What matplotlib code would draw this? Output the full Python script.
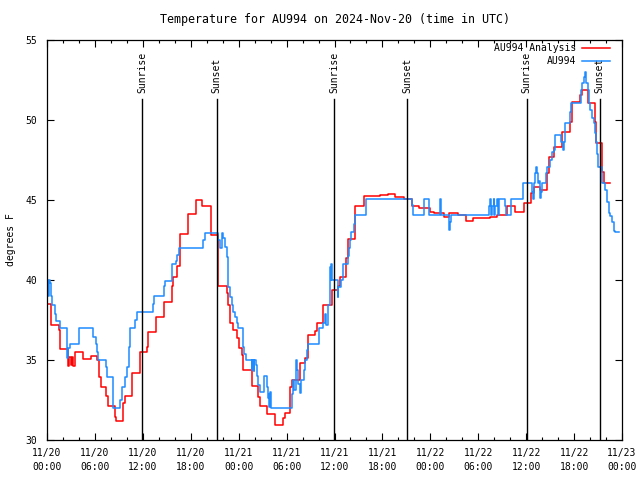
import numpy as np
import matplotlib
matplotlib.use("Agg")
import matplotlib.pyplot as plt
from matplotlib.ticker import MultipleLocator

# hours since 2024-11-20 00:00 UTC, value holds until next time (step)
red_t = [0.0, 0.55, 1.5, 1.63, 2.63, 2.8, 2.95, 3.1, 3.25, 3.45, 4.55, 5.55, 6.3, 6.5, 6.7,
         7.45, 7.7, 8.5, 8.7, 9.5, 9.8, 10.6, 11.65, 12.5, 12.7, 13.66, 14.66, 15.62, 15.75,
         16.25, 16.67, 17.71, 18.67, 19.38, 20.51, 21.47, 22.52, 22.72, 22.93, 23.3, 23.77,
         23.98, 24.4, 24.6, 25.65, 25.73, 26.48, 26.69, 27.53, 28.57, 29.53, 29.74, 30.45,
         30.74, 31.7, 32.33, 32.67, 33.58, 33.8, 34.5, 35.67, 36.5, 36.72, 37.47, 37.63, 38.6,
         39.64, 41.65, 42.65, 43.6, 44.65, 45.7, 46.53, 48.0, 48.4, 49.66, 50.4, 51.5, 52.5,
         53.4, 54.5, 55.5, 56.35, 57.6, 58.65, 59.7, 60.6, 60.94, 61.78, 62.6, 62.8, 63.5,
         64.5, 65.45, 65.75, 66.7, 67.0, 67.7, 68.67, 68.8, 69.5, 69.7, 70.46]
red_v = [38.5, 37.2, 36.9, 35.7, 34.6, 35.2, 34.7, 35.2, 34.6, 35.5, 35.06, 35.27, 35.0, 33.96, 33.33,
         32.75, 32.1, 31.46, 31.17, 32.3, 32.75, 34.17, 35.5, 35.83, 36.77, 37.67, 38.65, 39.6, 40.2,
         40.9, 42.9, 44.1, 45.0, 44.6, 42.8, 39.6, 39.2, 38.44, 37.3, 36.9, 36.35,
         35.73, 35.3, 34.4, 33.85, 33.4, 32.7, 32.15, 31.6, 30.94, 31.35, 31.67, 33.33,
         33.75, 34.8, 35.1, 36.56, 36.8, 37.3, 38.44, 39.4, 39.6, 40.17, 41.35, 42.54, 44.6,
         45.25, 45.31, 45.375, 45.17, 45.05, 44.6, 44.48, 44.27, 44.17, 43.96, 44.2, 44.06, 43.71,
         43.9, 43.85, 43.96, 44.06, 44.65, 44.27, 44.79, 45.42, 45.83, 45.625, 46.67, 47.71, 48.33,
         49.27, 49.9, 51.15, 51.56, 51.875, 51.04, 49.9, 48.54, 46.77, 46.04, 46.04]

blue_t = [0.0, 0.13, 0.25, 0.38, 0.54, 0.67, 0.96, 1.17, 1.59, 2.55, 2.63, 2.88, 4.01, 5.8, 6.1,
          6.3, 6.43, 7.35, 7.55, 8.31, 9.15, 9.36, 9.77, 10.07, 10.32, 10.4, 11.03, 11.24, 13.24,
          13.41, 14.66, 14.79, 15.7, 16.17, 16.33, 16.58, 19.59, 19.8, 21.47, 21.68, 21.89, 22.1,
          22.3, 22.52, 22.72, 22.93, 23.14, 23.35, 23.56, 23.77, 23.9, 24.48, 24.6, 24.73, 24.9,
          25.65, 25.73, 25.86, 25.98, 26.15, 26.27, 26.48, 26.69, 27.11, 27.53, 27.66, 27.8, 27.86,
          27.94, 28.07, 30.66, 30.79, 30.99, 31.16, 31.29, 31.49, 31.7, 31.83, 32.12, 32.33, 32.54,
          32.67, 34.0, 34.62, 34.84, 34.96, 35.17, 35.46, 35.55, 35.59, 35.71, 36.38, 36.5, 36.8,
          37.05, 37.63, 37.76, 37.88, 38.05, 38.47, 38.6, 39.97, 45.7, 45.83, 47.15, 47.78, 49.25,
          49.37, 50.29, 50.5, 50.63, 55.3, 55.43, 55.55, 55.73, 55.93, 56.02, 56.14, 56.35, 56.48,
          56.64, 57.31, 57.48, 58.15, 59.6, 60.74, 60.86, 60.94, 61.03, 61.15, 61.28, 61.37, 61.44,
          61.57, 61.69, 61.78, 61.87, 61.99, 62.53, 62.62, 63.03, 63.24, 63.45, 63.66, 64.37, 64.62,
          64.7, 64.91, 65.45, 65.63, 66.88, 67.0, 67.21, 67.42, 67.54, 67.7, 67.83, 68.05, 68.25,
          68.46, 68.58, 68.71, 68.83, 68.96, 69.5, 69.92, 70.14, 70.34, 70.55, 70.76, 70.97, 71.18,
          71.59]
blue_v = [40.0, 39.0, 40.0, 39.8, 39.0, 38.44, 37.9, 37.46, 36.98, 35.1, 35.73, 35.98, 36.98, 36.46, 35.98,
          35.5, 35.0, 34.58, 33.94, 31.98, 32.5, 33.3, 33.96, 34.58, 35.8, 36.98, 37.5, 37.98, 38.5,
          39.0, 39.6, 39.96, 41.0, 41.2, 41.56, 41.98, 42.5, 42.96, 42.5, 42.0, 42.96, 42.6,
          42.08, 41.46, 39.58, 38.96, 38.44, 38.02, 37.7, 37.3, 36.98, 36.25, 35.8, 35.4, 35.0,
          34.4, 35.0, 34.3, 35.0, 34.7, 34.0, 33.44, 33.02, 34.0, 33.3, 32.6, 32.9, 32.08,
          33.0, 31.98, 32.9, 33.75, 33.1, 35.0, 34.4, 33.5, 32.96, 33.75, 34.4, 35.0, 35.6,
          35.98, 36.98, 37.3, 37.9, 37.2, 38.44, 40.8, 40.0, 41.0, 40.0, 38.96, 39.58, 40.0,
          40.98, 41.5, 41.98, 42.5, 42.98, 43.5, 44.06, 45.04, 44.69, 44.06, 45.04, 44.06, 45.04,
          44.06, 43.1, 43.6, 44.06, 44.6, 45.04, 44.06, 44.6, 45.04, 44.06, 44.6, 45.04, 44.06,
          45.04, 44.6, 44.06, 45.04, 46.04, 45.5, 45.04, 45.5, 46.04, 46.67, 47.08, 46.67, 46.04,
          46.2, 45.5, 45.1, 45.5, 46.04, 46.67, 47.08, 47.5, 48.02, 48.1, 49.06, 48.65, 48.1,
          48.65, 49.79, 50.52, 51.08, 51.875, 52.3, 52.7, 53.02, 52.3, 51.875, 51.04, 50.6, 50.1,
          49.8, 49.17, 48.65, 47.9, 47.08, 46.04, 45.625, 44.9, 44.17, 44.0, 43.65, 43.08, 43.0,
          43.0]

sun_t = [11.9, 21.26, 35.99, 45.14, 60.05, 69.19]
sun_lbl = ['Sunrise', 'Sunset', 'Sunrise', 'Sunset', 'Sunrise', 'Sunset']

xtick_pos = [0, 6, 12, 18, 24, 30, 36, 42, 48, 54, 60, 66, 72]
xtick_lbl = ['11/20\n00:00', '11/20\n06:00', '11/20\n12:00', '11/20\n18:00',
             '11/21\n00:00', '11/21\n06:00', '11/21\n12:00', '11/21\n18:00',
             '11/22\n00:00', '11/22\n06:00', '11/22\n12:00', '11/22\n18:00',
             '11/23\n00:00']

plt.rcParams['font.family'] = 'DejaVu Sans Mono'
plt.rcParams['font.size'] = 7

fig = plt.figure(figsize=(6.4, 4.8), dpi=100)
ax = fig.add_axes([47/640, 40/480, 575/640, 400/480])

ax.step(red_t, red_v, where='post', color='#ff0000', lw=1.1, label='AU994 Analysis')
ax.step(blue_t, blue_v, where='post', color='#1e8cff', lw=1.1, label='AU994')

for t, lbl in zip(sun_t, sun_lbl):
    ax.axvline(t, ymin=0, ymax=0.8525, color='black', lw=1.0)
    ax.text(t, 0.8675, lbl, transform=ax.get_xaxis_transform(), rotation=90,
            ha='center', va='bottom')

ax.set_xlim(0, 72)
ax.set_ylim(30, 55)
ax.set_xticks(xtick_pos)
ax.set_xticklabels(xtick_lbl, linespacing=1.45)
ax.xaxis.set_minor_locator(MultipleLocator(2))
ax.set_yticks([30, 35, 40, 45, 50, 55])
ax.tick_params(which='both', direction='in', top=True, right=True)
ax.tick_params(which='major', length=5, width=0.8)
ax.tick_params(which='minor', length=2.5, width=0.8)
ax.tick_params(axis='x', pad=6)
ax.tick_params(axis='y', pad=7)
for s in ax.spines.values():
    s.set_linewidth(0.9)

ax.set_title('Temperature for AU994 on 2024-Nov-20 (time in UTC)', pad=12)
ax.set_ylabel('degrees F', labelpad=7)

ax.legend(loc='upper right', bbox_to_anchor=(610/640, 1 - 43/480),
          bbox_transform=fig.transFigure, frameon=False, markerfirst=False,
          handlelength=2.9, handletextpad=0.6, borderpad=0, borderaxespad=0,
          labelspacing=0.35)

plt.savefig('out.png', dpi=100)
